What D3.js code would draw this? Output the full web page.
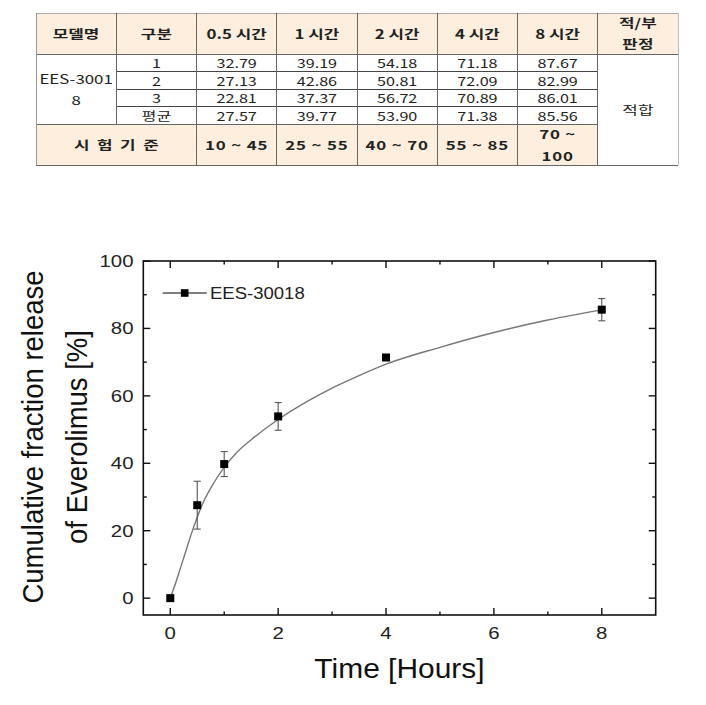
<!DOCTYPE html>
<html>
<head>
<meta charset="utf-8">
<script src="https://cdn.jsdelivr.net/npm/d3@7"></script>
<style>
  html, body { margin: 0; padding: 0; background: #fff; }
  svg { display: block; }
</style>
</head>
<body>
<svg id="chart" width="706" height="705"></svg>
<script>
// ---------- Table data ----------
const headerLabels = ["모델명", "구분", "0.5 시간", "1 시간", "2 시간", "4 시간", "8 시간"];
const judgeHeader = ["적/부", "판정"];
const modelName = ["EES-3001", "8"];
const repLabels = ["1", "2", "3", "평균"];
const rep1 = [32.79, 39.19, 54.18, 71.18, 87.67];
const rep2 = [27.13, 42.86, 50.81, 72.09, 82.99];
const rep3 = [22.81, 37.37, 56.72, 70.89, 86.01];
const repAvg = [27.57, 39.77, 53.90, 71.38, 85.56];
const criteriaLabel = "시 험 기 준";
const criteria = [["10 ~ 45"], ["25 ~ 55"], ["40 ~ 70"], ["55 ~ 85"], ["70 ~", "100"]];
const judgement = "적합";

// ---------- Chart data ----------
const times = [0, 0.5, 1, 2, 4, 8];
const means = [0, 27.57, 39.77, 53.90, 71.38, 85.56];
const errs = [0, 7.1, 3.7, 4.1, 0.6, 3.3];
const fitT = [0, 0.1, 0.2, 0.3, 0.4, 0.5, 0.6, 0.8, 1.0, 1.25, 1.5, 2.0, 2.5, 3.0, 3.5, 4.0, 5.0, 6.0, 7.0, 8.0];
const fitV = [0, 4.5, 9.5, 14.5, 19.5, 24, 28, 34, 38.8, 43.5, 47, 53, 58, 62.3, 66, 69.4, 74.4, 78.8, 82.5, 85.5];
const xTicks = [0, 2, 4, 6, 8];
const xMinor = [1, 3, 5, 7];
const yTicks = [0, 20, 40, 60, 80, 100];
const yMinor = [10, 30, 50, 70, 90];
const seriesName = "EES-30018";
const xTitle = "Time [Hours]";
const yTitle = ["Cumulative fraction release", "of Everolimus [%]"];

const svg = d3.select("#chart");

// ================= TABLE =================
const KR = "'Noto Sans CJK KR', 'Noto Sans', sans-serif";
const SX = 1.35;
const peach = "#fdeedd";
const lineC = "#666";
const colX = d3.scaleLinear().domain([0, 8]).range([36, 678]);
const rowEdges = [13, 54, 71.5, 89, 106.5, 124, 165];
const tbl = svg.append("g");

function cellText(g, x, y, txt, opts = {}) {
  g.append("text")
    .attr("transform", `translate(${x},${y}) scale(${opts.sx || SX},1)`)
    .attr("text-anchor", "middle")
    .attr("dominant-baseline", "central")
    .attr("font-family", KR)
    .attr("font-size", opts.size || 12)
    .attr("font-weight", opts.bold ? 700 : 400)
    .attr("letter-spacing", opts.ls || 0)
    .attr("fill", opts.fill || "#222")
    .text(txt);
}

// backgrounds
tbl.append("rect").attr("x", colX(0)).attr("y", rowEdges[0])
  .attr("width", colX(8) - colX(0)).attr("height", rowEdges[1] - rowEdges[0]).attr("fill", peach);
tbl.append("rect").attr("x", colX(0)).attr("y", rowEdges[5])
  .attr("width", colX(7) - colX(0)).attr("height", rowEdges[6] - rowEdges[5]).attr("fill", peach);

// header texts
headerLabels.forEach((h, i) => {
  cellText(tbl, (colX(i) + colX(i + 1)) / 2, (rowEdges[0] + rowEdges[1]) / 2, h, { bold: true, size: 12.5 });
});
judgeHeader.forEach((h, j) => {
  cellText(tbl, (colX(7) + colX(8)) / 2, 22.5 + j * 21, h, { bold: true, size: 12.5 });
});

// model name
modelName.forEach((m, j) => {
  cellText(tbl, (colX(0) + colX(1)) / 2, 79 + j * 21, m, { size: 12.5 });
});

// data rows
const dataRows = [rep1, rep2, rep3, repAvg];
dataRows.forEach((row, r) => {
  const cy = (rowEdges[r + 1] + rowEdges[r + 2]) / 2;
  cellText(tbl, (colX(1) + colX(2)) / 2, cy, repLabels[r], { size: 12 });
  row.forEach((v, c) => {
    cellText(tbl, (colX(c + 2) + colX(c + 3)) / 2, cy, v.toFixed(2), { size: 12 });
  });
});

// criteria row
cellText(tbl, (colX(0) + colX(2)) / 2 + 1, (rowEdges[5] + rowEdges[6]) / 2, criteriaLabel, { bold: true, size: 12.5, ls: 1.4 });
criteria.forEach((lines, c) => {
  const cx = (colX(c + 2) + colX(c + 3)) / 2;
  const mid = (rowEdges[5] + rowEdges[6]) / 2;
  lines.forEach((t, j) => {
    const cy = lines.length === 1 ? mid : mid - 11 + j * 22;
    cellText(tbl, cx, cy, t, { bold: true, size: 12.5, ls: 0.6 });
  });
});

// judgement
cellText(tbl, (colX(7) + colX(8)) / 2, (rowEdges[1] + rowEdges[6]) / 2, judgement, { size: 12.5 });

// grid lines
const L = (x1, y1, x2, y2, c = lineC) => tbl.append("line")
  .attr("x1", x1).attr("y1", y1).attr("x2", x2).attr("y2", y2)
  .attr("stroke", c).attr("stroke-width", 1).attr("shape-rendering", "crispEdges");
L(colX(0), rowEdges[0], colX(8), rowEdges[0], "#aaa");
L(colX(0), rowEdges[1], colX(8), rowEdges[1]);
for (let r = 2; r <= 4; r++) L(colX(1), rowEdges[r], colX(7), rowEdges[r], "#444");
L(colX(0), rowEdges[5], colX(7), rowEdges[5]);
L(colX(0), rowEdges[6], colX(8), rowEdges[6]);
L(colX(0), rowEdges[0], colX(0), rowEdges[6], "#999");
L(colX(8), rowEdges[0], colX(8), rowEdges[6], "#bbb");
for (let c = 1; c <= 7; c++) {
  if (c === 1) { L(colX(1), rowEdges[0], colX(1), rowEdges[5]); }
  else L(colX(c), rowEdges[0], colX(c), rowEdges[6]);
}

// ================= CHART =================
const AR = "'Liberation Sans', Arial, sans-serif";
const x = d3.scaleLinear().domain([-0.5, 9]).range([143.3, 655.7]);
const y = d3.scaleLinear().domain([-5, 100]).range([615, 261]);
const g = svg.append("g");

// frame
g.append("rect").attr("x", x(-0.5)).attr("y", y(100))
  .attr("width", x(9) - x(-0.5)).attr("height", y(-5) - y(100))
  .attr("fill", "none").attr("stroke", "#111").attr("stroke-width", 1.6);

// ticks (inward on all four sides)
const tk = (x1, y1, x2, y2) => g.append("line").attr("x1", x1).attr("y1", y1).attr("x2", x2).attr("y2", y2)
  .attr("stroke", "#111").attr("stroke-width", 1.4);
xTicks.forEach(t => { tk(x(t), y(-5), x(t), y(-5) - 7); tk(x(t), y(100), x(t), y(100) + 7); });
xMinor.forEach(t => { tk(x(t), y(-5), x(t), y(-5) - 3.5); tk(x(t), y(100), x(t), y(100) + 3.5); });
yTicks.forEach(t => { tk(x(-0.5), y(t), x(-0.5) + 7, y(t)); tk(x(9), y(t), x(9) - 7, y(t)); });
yMinor.forEach(t => { tk(x(-0.5), y(t), x(-0.5) + 3.5, y(t)); tk(x(9), y(t), x(9) - 3.5, y(t)); });

// tick labels
xTicks.forEach(t => {
  g.append("text").attr("transform", `translate(${x(t)},639) scale(1.2,1)`)
    .attr("text-anchor", "middle").attr("font-family", AR).attr("font-size", 17)
    .attr("fill", "#222").text(t);
});
yTicks.forEach(t => {
  g.append("text").attr("transform", `translate(133.5,${y(t) + 6}) scale(1.2,1)`)
    .attr("text-anchor", "end").attr("font-family", AR).attr("font-size", 17)
    .attr("fill", "#222").text(t);
});

// titles
g.append("text").attr("transform", `translate(${(x(-0.5) + x(9)) / 2},678) scale(1.07,1)`)
  .attr("text-anchor", "middle").attr("font-family", AR).attr("font-size", 28)
  .attr("fill", "#111").text(xTitle);
yTitle.forEach((t, i) => {
  g.append("text").attr("transform", `translate(${43 + i * 44},437) rotate(-90) scale(1,1.08)`)
    .attr("text-anchor", "middle").attr("font-family", AR).attr("font-size", 27.5)
    .attr("fill", "#111").text(t);
});

// fitted curve
const fit = fitT.map((t, i) => [t, fitV[i]]);
g.append("path").datum(fit)
  .attr("d", d3.line().x(d => x(d[0])).y(d => y(d[1])).curve(d3.curveMonotoneX))
  .attr("fill", "none").attr("stroke", "#777").attr("stroke-width", 1.4);

// error bars
const pts = times.map((t, i) => ({ t, v: means[i], e: errs[i] }));
const eb = g.append("g").attr("stroke", "#555").attr("stroke-width", 1.1);
pts.filter(d => d.e > 0).forEach(d => {
  eb.append("line").attr("x1", x(d.t)).attr("x2", x(d.t)).attr("y1", y(d.v - d.e)).attr("y2", y(d.v + d.e));
  [d.v - d.e, d.v + d.e].forEach(v => eb.append("line")
    .attr("x1", x(d.t) - 3.5).attr("x2", x(d.t) + 3.5).attr("y1", y(v)).attr("y2", y(v)));
});

// markers
g.selectAll("rect.pt").data(pts).join("rect").attr("class", "pt")
  .attr("x", d => x(d.t) - 4).attr("y", d => y(d.v) - 4)
  .attr("width", 8).attr("height", 8).attr("fill", "#000");

// legend
const ly = 293;
g.append("line").attr("x1", 162.7).attr("x2", 206.7).attr("y1", ly).attr("y2", ly)
  .attr("stroke", "#555").attr("stroke-width", 1.3);
g.append("rect").attr("x", 184.7 - 3.8).attr("y", ly - 3.8).attr("width", 7.6).attr("height", 7.6).attr("fill", "#000");
g.append("text").attr("transform", `translate(210,${ly + 6}) scale(1.09,1)`)
  .attr("font-family", AR).attr("font-size", 17).attr("fill", "#222").text(seriesName);
</script>
</body>
</html>
